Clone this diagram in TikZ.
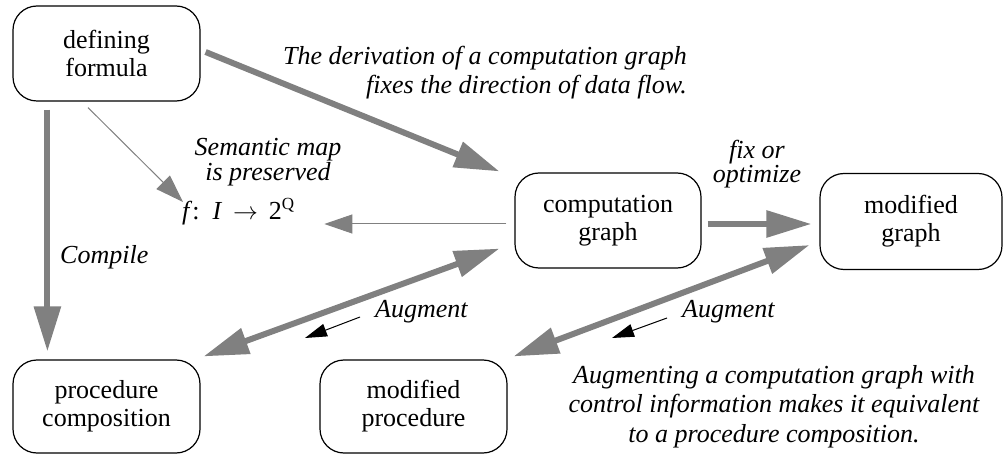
\documentclass[tikz,border=0pt]{standalone}
\usepackage{fontspec}
\setmainfont{Liberation Serif}
\usetikzlibrary{arrows.meta,calc}
\definecolor{flowgray}{RGB}{128,128,128}
\begin{document}
\begin{tikzpicture}[x=1pt,y=-1pt,
  box/.style={draw, line width=1.2pt, rounded corners=24pt, align=center,
    inner sep=0pt, font=\fontsize{26}{28}\selectfont},
  lbl/.style={inner sep=0pt, font=\fontsize{26}{#1}\selectfont\itshape},
  lbl/.default=25,
  flow/.style={draw=flowgray, line width=6pt, -{Triangle[length=45pt,width=26pt]}},
  twoway/.style={draw=flowgray, line width=6pt,
    {Triangle[length=45pt,width=26pt]}-{Triangle[length=45pt,width=26pt]}},
  thinflow/.style={draw=flowgray, line width=1pt, -{Triangle[length=28pt,width=19pt]}},
  pointer/.style={draw=black, line width=1pt, -{Triangle[length=22pt,width=13pt]}}]
\useasboundingbox (0,0) rectangle (1003,454);

% boxes
\node[box, minimum width=187pt, minimum height=95pt] (df) at (106.5,53.5) {defining\\formula};
\node[box, minimum width=186pt, minimum height=95pt] (cg) at (608,220.5) {computation\\graph};
\node[box, minimum width=182pt, minimum height=96pt] (mg) at (911,221.5) {modified\\graph};
\node[box, minimum width=187pt, minimum height=93pt] (pc) at (106.5,406.5) {procedure\\composition};
\node[box, minimum width=187pt, minimum height=93pt] (mp) at (413.5,406.5) {modified\\procedure};

% semantic map
\node[inner sep=0pt, anchor=base west, font=\fontsize{26}{28}\selectfont] (fmap) at (182,220)
  {\textit{f}:\, \textit{I}\, $\rightarrow$\, 2\raisebox{10pt}{\fontsize{17}{17}\selectfont Q}};

% labels
\node[lbl=29, align=right, anchor=north east] (derive) at (687,46)
  {The derivation of a computation graph\\fixes the direction of data flow.};
\node[lbl=25, align=center, anchor=north] (sem) at (268,138) {Semantic map\\is preserved};
\node[lbl=24, align=center, anchor=north] (fix) at (757,140) {fix or\\optimize};
\node[lbl, anchor=base west] (compile) at (60,263) {Compile};
\node[lbl, anchor=base west] (aug1) at (375,317) {Augment};
\node[lbl, anchor=base west] (aug2) at (682,317) {Augment};
\node[lbl=29.5, align=center, anchor=north] (note) at (774,365)
  {Augmenting a computation graph with\\control information makes it equivalent\\to a procedure composition.};

% connectors
\draw[flow] ($(df.east)+(5,-1.5)$) -- ($(cg.north west)+(-15,-1)$);
\draw[thinflow] ($(df.south)+(-18.5,6)$) -- ($(fmap.base west)+(1,-18)$);
\draw[thinflow] ($(cg.west)+(-8,3.5)$) -- ($(fmap.base east)+(30,4)$);
\draw[flow] ($(df.south west)+(35,8)$) -- ($(pc.north west)+(35,-8)$);
\draw[flow] ($(cg.east)+(6,3.5)$) -- ($(mg.west)+(-8,2.5)$);
\draw[twoway] ($(pc.north east)+(3,-3)$) -- ($(cg.south west)+(-15,-20)$);
\draw[twoway] ($(mp.north east)+(6,-3)$) -- ($(mg.south west)+(-10,-25)$);
\draw[pointer] ($(aug1.base west)+(-15,0)$) -- ($(aug1.base west)+(-70,21)$);
\draw[pointer] ($(aug2.base west)+(-15,1)$) -- ($(aug2.base west)+(-70,21)$);
\end{tikzpicture}
\end{document}
